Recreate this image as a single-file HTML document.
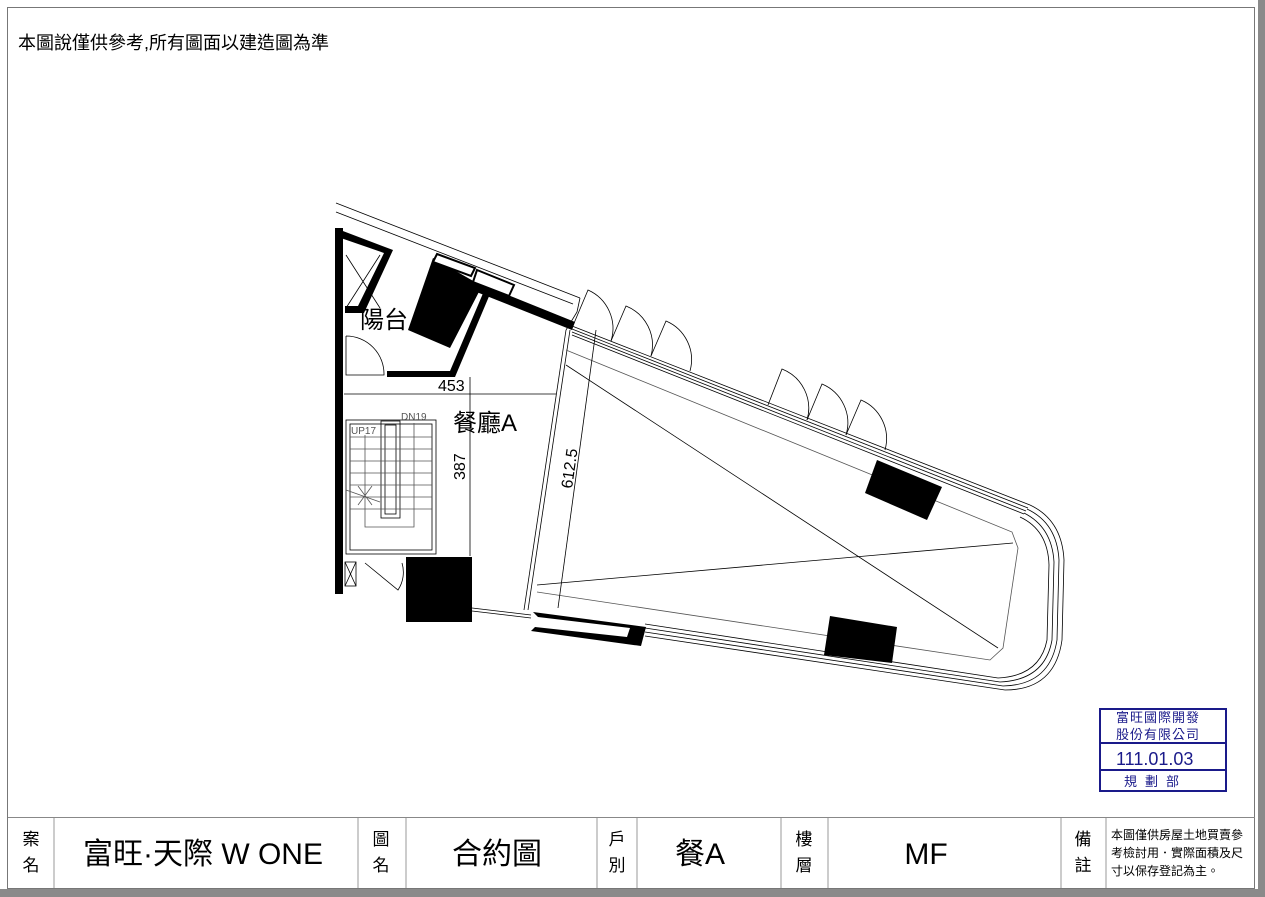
<!DOCTYPE html>
<html><head><meta charset="utf-8"><style>
html,body{margin:0;padding:0;background:#fff;}
body{width:1265px;height:897px;overflow:hidden;position:relative;font-family:"Liberation Sans","Noto Sans CJK TC",sans-serif;}
svg{position:absolute;left:0;top:0;}
text{font-family:"Liberation Sans","Noto Sans CJK TC",sans-serif;}
</style></head><body>
<svg width="1265" height="897" viewBox="0 0 1265 897">
<rect x="0" y="889" width="1265" height="8" fill="#8a8a8a"/>
<rect x="1258" y="0" width="7" height="897" fill="#8a8a8a"/>
<rect x="7.5" y="7.5" width="1247" height="881" fill="none" stroke="#777" stroke-width="1"/>
<text x="18" y="49" font-size="18" fill="#000">本圖說僅供參考,所有圖面以建造圖為準</text>

<!-- title row -->
<line x1="8" y1="817.5" x2="1255" y2="817.5" stroke="#888"/>
<g stroke="#999" stroke-width="1">
<line x1="54" y1="818" x2="54" y2="888"/><line x1="358" y1="818" x2="358" y2="888"/>
<line x1="406" y1="818" x2="406" y2="888"/><line x1="597" y1="818" x2="597" y2="888"/>
<line x1="637" y1="818" x2="637" y2="888"/><line x1="781" y1="818" x2="781" y2="888"/>
<line x1="828" y1="818" x2="828" y2="888"/><line x1="1061" y1="818" x2="1061" y2="888"/>
<line x1="1106" y1="818" x2="1106" y2="888"/>
</g>
<g font-size="17" text-anchor="middle" fill="#000">
<text x="31" y="845">案</text><text x="31" y="871">名</text>
<text x="381" y="845">圖</text><text x="381" y="871">名</text>
<text x="617" y="845">戶</text><text x="617" y="871">別</text>
<text x="804" y="845">樓</text><text x="804" y="871">層</text>
<text x="1083" y="845">備</text><text x="1083" y="871">註</text>
</g>
<g font-size="30" text-anchor="middle" fill="#000">
<text x="203" y="864">富旺·天際 W ONE</text>
<text x="497" y="864">合約圖</text>
<text x="700" y="864">餐A</text>
<text x="926" y="864">MF</text>
</g>
<g font-size="12" fill="#000">
<text x="1111" y="839">本圖僅供房屋土地買賣參</text>
<text x="1111" y="857">考檢討用．實際面積及尺</text>
<text x="1111" y="875">寸以保存登記為主。</text>
</g>

<!-- stamp -->
<g stroke="#1a1a8a" fill="none" stroke-width="2">
<rect x="1100" y="709" width="126" height="82"/>
<line x1="1100" y1="743" x2="1226" y2="743"/>
<line x1="1100" y1="770" x2="1226" y2="770"/>
</g>
<g fill="#1a1a8a" font-size="13">
<text x="1116" y="722" letter-spacing="1">富旺國際開發</text>
<text x="1116" y="739" letter-spacing="1">股份有限公司</text>
<text x="1116" y="765" font-size="18">111.01.03</text>
<text x="1124" y="786" letter-spacing="8">規劃部</text>
</g>

<!-- plan -->
<g stroke="#000" fill="none" stroke-width="0.8">
<line x1="336" y1="203" x2="580" y2="298"/>
<line x1="336" y1="212" x2="573" y2="304"/>
<polyline points="580,298 577,312 566,330"/>
<line x1="570" y1="330" x2="528" y2="610"/>
<line x1="566" y1="330" x2="524" y2="610"/>
<line x1="572" y1="326" x2="1030" y2="505"/>
<line x1="572" y1="329" x2="1028" y2="508"/>
<line x1="572" y1="332" x2="1026" y2="511"/>
<line x1="572" y1="335" x2="1024" y2="514"/>
<path d="M1030,505 Q1062,520 1064,560 L1062,640 Q1055,690 1005,690"/>
<path d="M1027,509 Q1057,523 1059,560 L1057,640 Q1050,685 1003,686"/>
<path d="M1024,513 Q1052,527 1054,562 L1052,640 Q1045,680 1000,682"/>
<path d="M1020,517 Q1048,530 1049,565 L1047,640 Q1040,676 998,678"/>
<line x1="1005" y1="690" x2="645" y2="636"/>
<line x1="1003" y1="686" x2="645" y2="632"/>
<line x1="1000" y1="682" x2="645" y2="628"/>
<line x1="998" y1="678" x2="645" y2="624"/>
<line x1="531" y1="615" x2="472" y2="608"/>
<line x1="531" y1="618" x2="472" y2="611"/>
<polyline points="566,350 1012,532 1018,548 1003,648 990,660 537,592" stroke="#555"/>
<line x1="566" y1="365" x2="998" y2="648"/>
<line x1="537" y1="585" x2="1013" y2="543"/>
<g stroke="#000">
<path d="M572,328 L588,290 A42,42 0 0 1 611,341"/>
<path d="M611,341 L626,306 A42,42 0 0 1 651,356"/>
<path d="M651,356 L666,321 A42,42 0 0 1 690,371"/>
<path d="M768,405 L782,369 A42,42 0 0 1 807,420"/>
<path d="M807,420 L822,384 A42,42 0 0 1 846,435"/>
<path d="M846,435 L861,400 A42,42 0 0 1 885,450"/>
</g>
<line x1="344" y1="394" x2="556" y2="394"/>
<line x1="470" y1="377" x2="470" y2="556"/>
<line x1="596" y1="330" x2="558" y2="608"/>
<rect x="346" y="420" width="90" height="134"/>
<rect x="350" y="424" width="82" height="126"/>
<rect x="381" y="421" width="19" height="97"/>
<rect x="385" y="425" width="11" height="89"/>
<g stroke="#555">
<line x1="350" y1="437" x2="432" y2="437"/><line x1="350" y1="449" x2="432" y2="449"/>
<line x1="350" y1="461" x2="432" y2="461"/><line x1="350" y1="473" x2="432" y2="473"/>
<line x1="350" y1="485" x2="432" y2="485"/><line x1="350" y1="497" x2="432" y2="497"/>
<line x1="350" y1="509" x2="432" y2="509"/>
<polyline points="365,435 365,527 414,527 414,423"/>
<line x1="346" y1="490" x2="380" y2="502"/><line x1="358" y1="486" x2="372" y2="505"/><line x1="372" y1="486" x2="358" y2="505"/>
</g>
<line x1="346" y1="255" x2="380" y2="308"/>
<line x1="346" y1="308" x2="380" y2="255"/>
<path d="M346,336 L346,375 L384,375 A38,38 0 0 0 346,336"/>
<rect x="345" y="562" width="11" height="24"/>
<line x1="345" y1="562" x2="356" y2="586"/><line x1="356" y1="562" x2="345" y2="586"/>
<path d="M365,563 L398,590 A32,32 0 0 0 402,563"/>
</g>
<g fill="#000">
<rect x="335" y="228" width="8" height="366"/>
<polygon points="335,228 393,250 364,313 345,313 345,306 358,306 384,253 335,236"/>
<polygon points="433,258 482,286 450,348 408,330"/>
<polygon points="478,283 575,322 572,330 474,291"/>
<polygon points="387,371 450,371 484,291 490,294 455,377 387,377"/>
<rect x="406" y="557" width="66" height="65"/>
<polygon points="533,612 646,627 641,646 531,631 535,627 627,637 630,628 538,617"/>
<polygon points="877,460 942,487 927,520 865,493"/>
<polygon points="830,616 897,627 892,663 824,655"/>
</g>
<g fill="#fff" stroke="#000" stroke-width="2">
<polygon points="437,254 475,268 471,276 433,262"/>
<polygon points="477,270 514,285 509,296 473,282"/>
</g>
<g font-size="24" fill="#000">
<text x="360" y="328">陽台</text>
<text x="453" y="431">餐廳A</text>
</g>
<g font-size="14" fill="#000">
<text x="438" y="391" font-size="16">453</text>
<text transform="translate(465,480) rotate(-90)" font-size="16">387</text>
<text transform="translate(572,489) rotate(-82)" font-size="16">612.5</text>
<text x="351" y="434" font-size="10" fill="#555">UP17</text>
<text x="401" y="420" font-size="10" fill="#555">DN19</text>
</g>
</svg>
</body></html>
